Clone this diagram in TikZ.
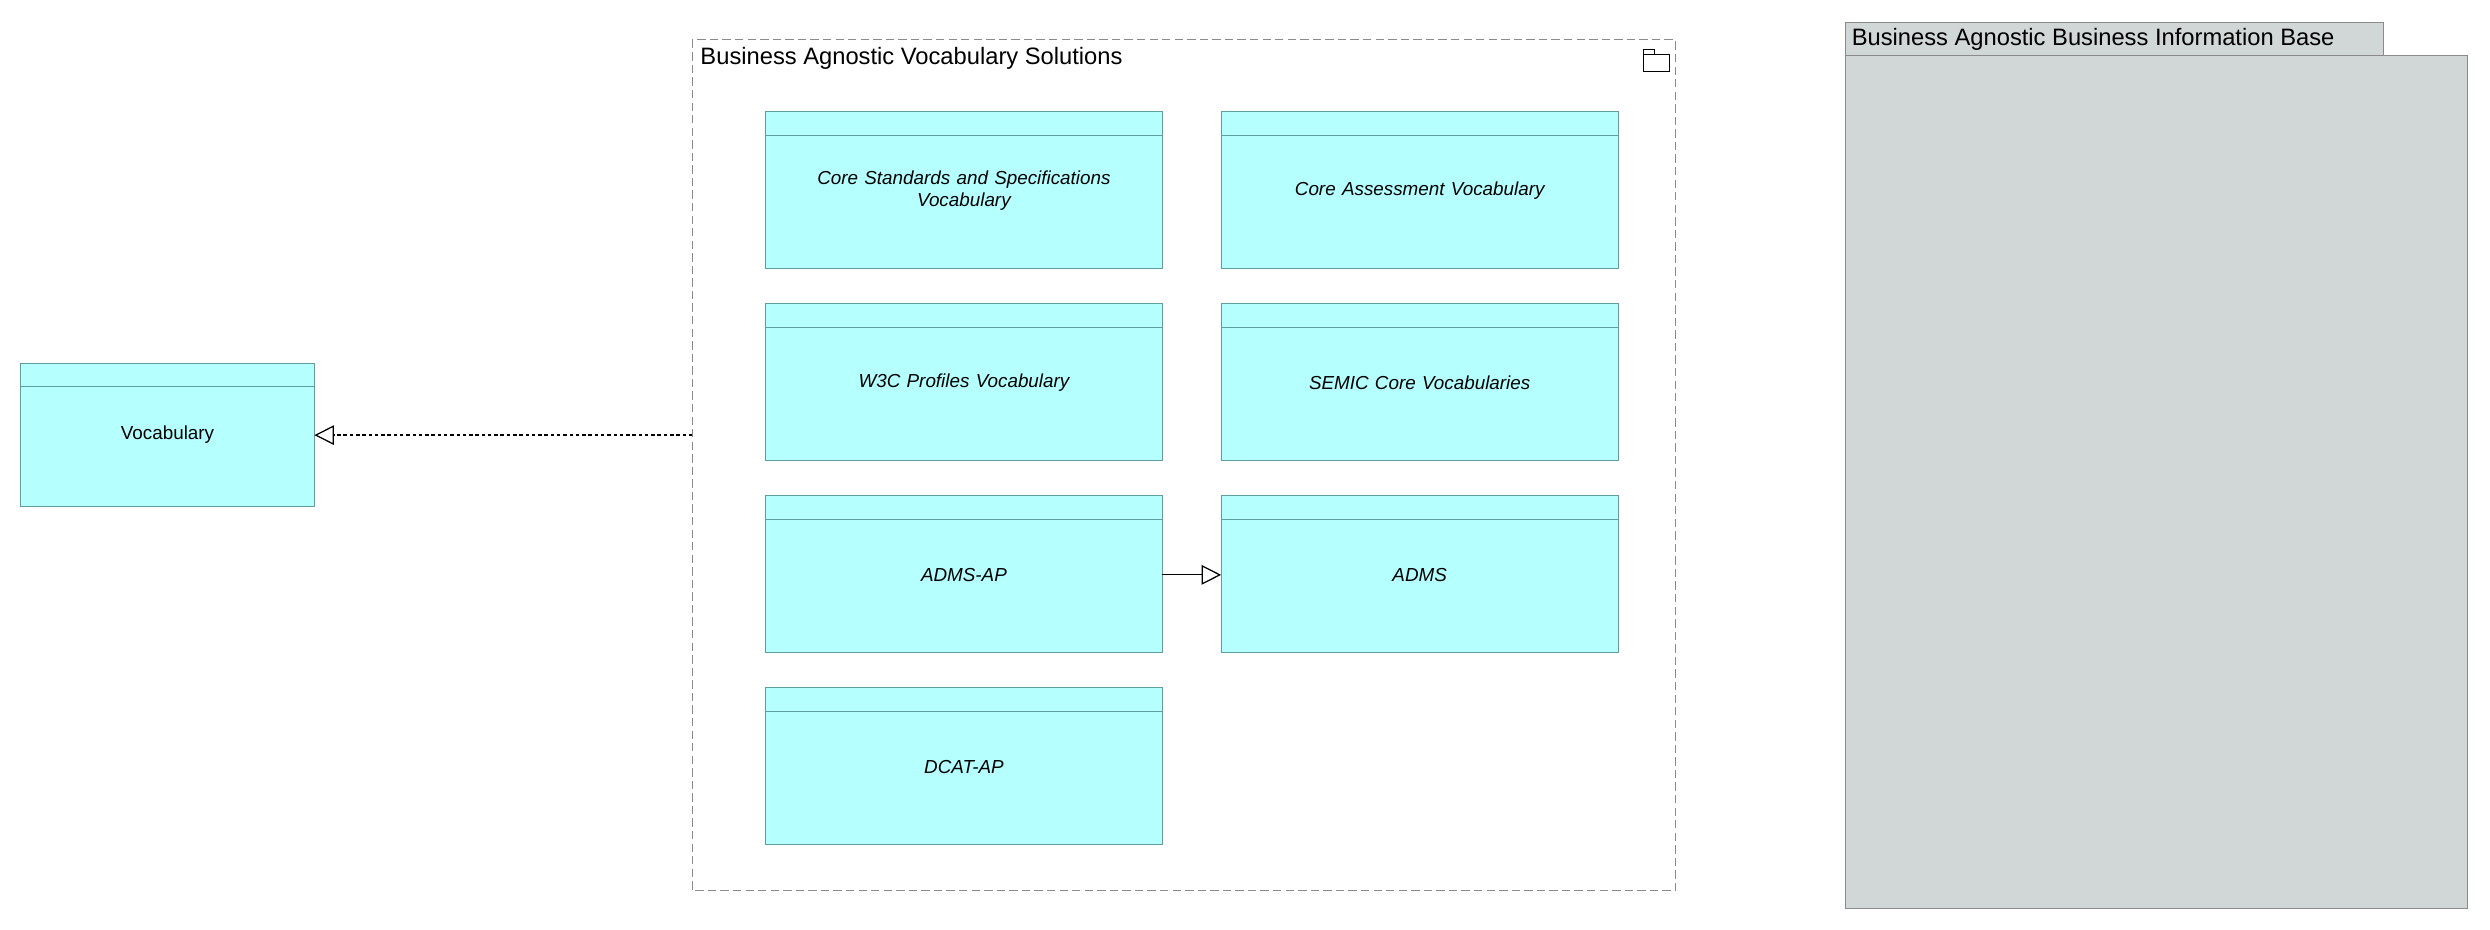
\documentclass[tikz,border=0pt]{standalone}
\usepackage{fontspec}
\setmainfont{Liberation Sans}
\usetikzlibrary{arrows.meta}
\definecolor{cyanf}{HTML}{B5FFFF}
\definecolor{cyand}{HTML}{5E9EA0}
\definecolor{greyf}{HTML}{D1D7D7}
\definecolor{greyd}{HTML}{8A8A8A}
\begin{document}
\begin{tikzpicture}[x=0.04cm,y=-0.04cm,
  box/.style={draw=cyand,fill=cyanf,line width=0.6pt},
  lbl/.style={font=\fontsize{13.5}{16}\selectfont\itshape,align=center,text width=8cm},
  gen/.style={-{Triangle[open,length=14pt,width=14pt]},line width=0.9pt}]
\useasboundingbox (0,0) rectangle (1568,585.6);
% Vocabulary
\draw[box] (13,229) rectangle (198,319); \draw[cyand] (13,243)--(198,243);
\node[font=\fontsize{13.5}{16}\selectfont] (voc) at (105.5,274) {Vocabulary};
\coordinate (vocR) at (198,274);
% group
\draw[greyd,dash pattern=on 6pt off 3pt,line width=0.6pt] (436,25) rectangle (1055,561);
\node[anchor=west,font=\fontsize{17}{19}\selectfont] (gt) at (438,37) {Business Agnostic Vocabulary Solutions};
\draw[line width=0.6pt] (1035,34) rectangle (1051,45); \draw[line width=0.6pt] (1035,34)--(1035,31)--(1042,31)--(1042,34);
\coordinate (grpL) at (436,274);
% boxes
\foreach \n/\x/\y/\t in {a/482/70/{Core Standards and Specifications\\Vocabulary},b/769/70/{Core Assessment Vocabulary},c/482/191/{W3C Profiles Vocabulary},d/769/191/{SEMIC Core Vocabularies},e/482/312/{ADMS-AP},f/769/312/{ADMS},g/482/433/{DCAT-AP}}{
  \draw[box] (\x,\y) rectangle ++(250,99); \draw[cyand] (\x,\y+15)--(\x+250,\y+15);
  \node[lbl] (\n) at (\x+125,\y+50) {\t};
}
\coordinate (eR) at (732,362); \coordinate (fL) at (769,362);
\draw[gen] (eR)--(fL);
\draw[gen,dash pattern=on 2.5pt off 2pt] (grpL)--(vocR);
% grey
\draw[fill=greyf,draw=greyd,line width=0.6pt] (1162,14) rectangle (1501,35);
\draw[fill=greyf,draw=greyd,line width=0.6pt] (1162,35) rectangle (1554,572);
\node[anchor=west,font=\fontsize{17}{19}\selectfont] (bt) at (1163,25) {Business Agnostic Business Information Base};
\end{tikzpicture}
\end{document}
